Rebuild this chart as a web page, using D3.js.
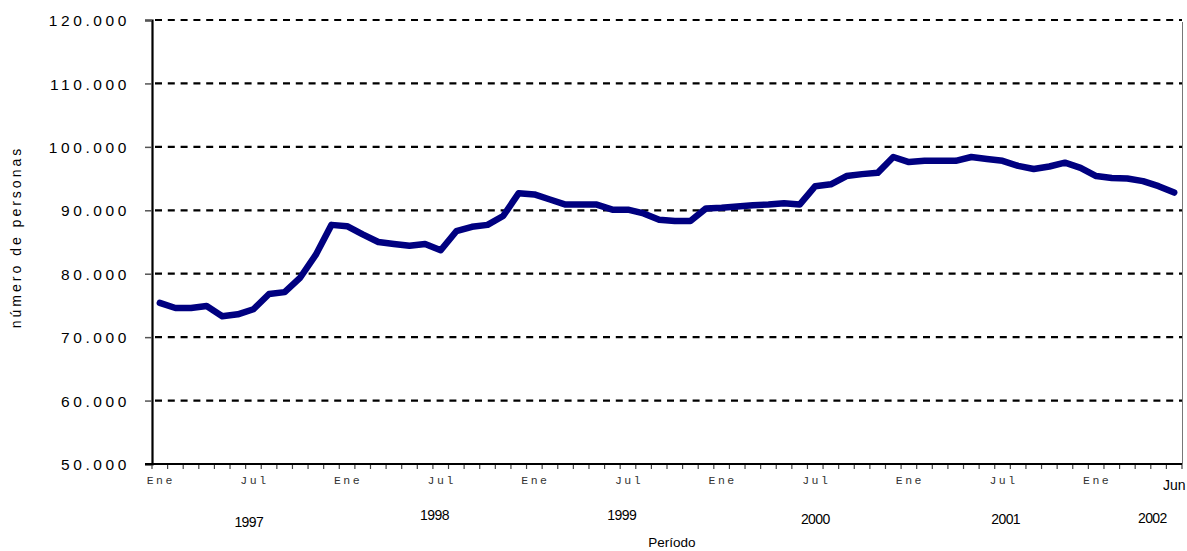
<!DOCTYPE html>
<html><head><meta charset="utf-8">
<script src="https://cdn.jsdelivr.net/npm/d3@7/dist/d3.min.js"></script>
<style>
body{margin:0;background:#fff;}
svg{display:block;}
</style></head>
<body>
<svg id="chart" width="1187" height="551"></svg>
<script>
// Data: monthly values Ene 1997 .. Jun 2002
const months = ["Ene","Feb","Mar","Abr","May","Jun","Jul","Ago","Sep","Oct","Nov","Dic"];
const startYear = 1997;
const values = [
  75400, 74600, 74600, 74900, 73300, 73600, 74400, 76800, 77100, 79400, 83000, 87700,
  87500, 86200, 85000, 84700, 84400, 84700, 83700, 86700, 87400, 87700, 89100, 92700,
  92500, 91700, 90900, 90900, 90900, 90100, 90100, 89500, 88500, 88300, 88300, 90300,
  90400, 90600, 90800, 90900, 91100, 90900, 93800, 94100, 95400, 95700, 95900, 98400,
  97600, 97800, 97800, 97800, 98400, 98100, 97800, 97000, 96500, 96900, 97500, 96700,
  95400, 95100, 95000, 94600, 93800, 92800
];
const yTicks = [50000, 60000, 70000, 80000, 90000, 100000, 110000, 120000];
const yearLabels = ["1997","1998","1999","2000","2001","2002"];
const yearLabelAnchor = [5.7, 17.6, 29.6, 42.0, 54.2, 63.6]; // month index where the year label sits
const yTitle = "número de personas";
const xTitle = "Período";

const labels = values.map((v,i)=> months[i%12] + " " + (startYear + Math.floor(i/12)));

const svg = d3.select("#chart");
const m = {left:152, right:1182, top:20, bottom:464};

const x = d3.scaleBand().domain(labels).range([m.left, m.right]).paddingInner(0).paddingOuter(0);
const y = d3.scaleLinear().domain([50000,120000]).range([m.bottom, m.top]);

const fmt = v => d3.format(",")(v).replace(/,/g,".");

// gridlines
svg.append("g").selectAll("line").data(yTicks.filter(t=>t>50000)).join("line")
  .attr("x1", m.left+3).attr("x2", m.right)
  .attr("y1", d=>y(d)).attr("y2", d=>y(d))
  .attr("stroke","#000").attr("stroke-width",2.2).attr("stroke-dasharray","7,5.8");

// right border
svg.append("line").attr("x1",m.right+0.5).attr("x2",m.right+0.5).attr("y1",m.top+2).attr("y2",m.bottom)
  .attr("stroke","#777").attr("stroke-width",1);

// y axis
const yAxis = svg.append("g").attr("transform",`translate(${m.left},0)`)
  .call(d3.axisLeft(y).tickValues(yTicks).tickSize(7).tickFormat(fmt));
yAxis.select(".domain").attr("stroke","#000").attr("stroke-width",2.2);
yAxis.selectAll(".tick line").attr("stroke","#555").attr("stroke-width",1.5);
yAxis.selectAll(".tick text").attr("x",-22).attr("dy","0.36em")
  .attr("font-family","Liberation Sans, Arial, sans-serif").attr("font-size",15.5)
  .attr("letter-spacing","3.6px").attr("fill","#000");

// x axis: ticks at category boundaries
const boundaries = d3.range(values.length+1).map(i=> m.left + i*x.bandwidth());
svg.append("g").selectAll("line").data(boundaries).join("line")
  .attr("x1",d=>d).attr("x2",d=>d).attr("y1",m.bottom).attr("y2",m.bottom+5)
  .attr("stroke","#444").attr("stroke-width",1.2);
svg.append("line").attr("x1",m.left-7).attr("x2",m.right).attr("y1",m.bottom).attr("y2",m.bottom)
  .attr("stroke","#000").attr("stroke-width",2.2);

// month labels
const monthLab = labels.map((l,i)=>({l,i})).filter(d=> d.i%6===0);
svg.append("g").selectAll("text").data(monthLab).join("text")
  .attr("x", d=> x(d.l)+x.bandwidth()/2 + 1)
  .attr("y", m.bottom+20)
  .attr("text-anchor","middle")
  .attr("font-family","Liberation Mono, Courier New, monospace")
  .attr("font-size",11.5).attr("letter-spacing","2.5px").attr("fill","#333")
  .text(d=> d.l.split(" ")[0]);
// last month label
const lastLab = labels[labels.length-1];
svg.append("text").attr("x", x(lastLab)+x.bandwidth()/2).attr("y", m.bottom+26)
  .attr("text-anchor","middle").attr("font-family","Liberation Sans, Arial, sans-serif")
  .attr("font-size",14).attr("fill","#000").text(lastLab.split(" ")[0]);

// year labels
const yearBase = [527, 520, 520, 524, 524, 523];
svg.append("g").selectAll("text").data(yearLabels).join("text")
  .attr("x",(d,i)=> m.left + (yearLabelAnchor[i]+0.5)*x.bandwidth())
  .attr("y",(d,i)=> yearBase[i])
  .attr("text-anchor","middle").attr("font-family","Liberation Sans, Arial, sans-serif")
  .attr("font-size",14).attr("letter-spacing","-0.6px").attr("fill","#000").text(d=>d);

// axis titles
svg.append("text").attr("x",672).attr("y",547).attr("text-anchor","middle")
  .attr("font-family","Liberation Sans, Arial, sans-serif").attr("font-size",13.5).text(xTitle);
svg.append("text").attr("transform","translate(21,237) rotate(-90)").attr("text-anchor","middle")
  .attr("font-family","Liberation Sans, Arial, sans-serif").attr("font-size",14)
  .attr("letter-spacing","3px").text(yTitle);

// line
const line = d3.line().x((d,i)=> x(labels[i])+x.bandwidth()/2).y(d=> y(d));
svg.append("path").datum(values).attr("d",line).attr("fill","none")
  .attr("stroke","#000080").attr("stroke-width",6.5).attr("stroke-linejoin","round").attr("stroke-linecap","round");
</script>
</body></html>
